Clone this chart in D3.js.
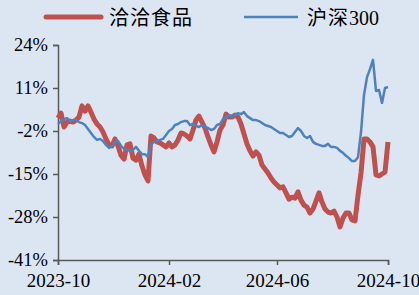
<!DOCTYPE html>
<html>
<head>
<meta charset="utf-8">
<script src="https://cdn.jsdelivr.net/npm/d3@7/dist/d3.min.js"></script>
<style>
  html, body { margin: 0; padding: 0; background: #dce6f2; }
  svg { display: block; }
</style>
</head>
<body>
<svg id="chart"></svg>
<script>
const W = 419, H = 295

// cumulative return, %, sampled points over the period
const qiaqia = [
    1.9, 3.4, -0.8, 0.7, 1.0, 0.7, 1.3, 2.2, 5.6, 4.0,
    5.6, 3.7, 1.6, 0.1, -0.8, -2.3, -4.4, -6.2, -6.5, -4.4,
    -6.5, -9.3, -10.5, -6.2, -5.9, -10.2, -10.8, -9.0, -12.6, -15.3,
    -17.1, -3.5, -4.1, -5.3, -5.6, -6.2, -6.8, -5.6, -6.8, -6.2,
    -4.7, -2.6, -2.9, -3.5, -4.4, -1.7, 1.3, 2.5, 0.7, -1.1,
    -3.8, -6.2, -8.3, -5.3, -1.7, -0.2, 3.1, 2.2, 2.2, 2.8,
    2.2, 0.1, -2.9, -5.9, -8.0, -9.6, -8.3, -9.3, -12.3, -13.5,
    -14.7, -16.2, -17.4, -18.3, -19.2, -18.9, -20.7, -22.6, -22.0, -22.3,
    -20.4, -22.9, -24.4, -25.0, -26.8, -25.6, -23.2, -20.7, -23.5, -25.6,
    -26.5, -26.8, -26.2, -28.0, -31.0, -28.3, -26.8, -26.8, -28.9, -29.2,
    -21.4, -14.7, -4.4, -4.4, -5.3, -6.8, -15.3, -15.6, -15.0, -14.4,
    -5.3
]

const hs300 = [
    0.1, 1.0, 1.6, 1.9, 1.0, 1.3, 1.3, 0.7, 0.4, -0.2,
    -1.4, -2.6, -3.8, -4.7, -4.4, -5.0, -6.2, -7.1, -6.5, -5.3,
    -5.0, -6.5, -7.4, -7.7, -8.0, -7.7, -6.8, -8.0, -9.0, -9.0,
    -9.9, -6.2, -5.3, -5.0, -4.7, -4.4, -3.2, -2.0, -1.4, -0.2,
    0.1, 0.7, 1.0, 1.0, -0.2, 0.1, -0.5, -0.8, -0.2, -0.8,
    -1.1, -1.7, -1.4, -0.2, 0.1, 1.6, 2.2, 2.8, 2.5, 2.8,
    3.4, 3.1, 3.7, 2.5, 1.9, 1.3, 1.3, 1.0, 0.4, -0.2,
    -0.5, -0.8, -1.4, -2.0, -2.6, -2.6, -3.2, -3.8, -3.5, -2.3,
    -1.1, -2.0, -3.5, -4.1, -3.5, -5.3, -5.9, -6.2, -6.5, -6.5,
    -5.9, -6.8, -6.8, -7.1, -8.0, -8.6, -9.5, -10.2, -11.1, -11.1,
    -9.9, -2.3, 8.9, 14.3, 16.7, 19.5, 10.1, 10.4, 6.5, 11.0,
    11.3
]

const yTicks = [24, 11, -2, -15, -28, -41]
const xTickIdx = [0, 37, 73, 110]
const xTickLabels = ['2023-10', '2024-02', '2024-06', '2024-10']

const seriesNames = ['洽洽食品', '沪深']
const red = '#c0504d'
const blue = '#4f81bd'
const axisCol = '#595959'

const svg = d3.select('#chart').attr('width', W).attr('height', H)

const x = d3.scaleLinear().domain([0, qiaqia.length - 1]).range([58, 388])
const y = d3.scaleLinear().domain([-41, 24]).range([260, 45])

// y axis
const yAxis = svg.append('g')
    .attr('transform', 'translate(58,0)')
    .call(d3.axisLeft(y).tickValues(yTicks).tickSize(5).tickPadding(5)
        .tickFormat(d => d + '%'))
yAxis.select('.domain').attr('stroke', axisCol).attr('stroke-width', 1.5)
yAxis.selectAll('.tick line').attr('stroke', axisCol).attr('stroke-width', 1.5)
yAxis.selectAll('.tick text')
    .attr('fill', '#000')
    .style('font-family', '"Liberation Serif", "Times New Roman", serif')
    .style('font-size', '18.5px')

// x axis
const xAxis = svg.append('g')
    .attr('transform', 'translate(0,260)')
    .call(d3.axisBottom(x).tickValues(xTickIdx).tickSize(5).tickPadding(9)
        .tickFormat((d, i) => xTickLabels[i]))
xAxis.select('.domain').attr('stroke', axisCol).attr('stroke-width', 1.5)
xAxis.selectAll('.tick line').attr('stroke', axisCol).attr('stroke-width', 1.5)
xAxis.selectAll('.tick text')
    .attr('fill', '#000')
    .style('font-family', '"Liberation Serif", "Times New Roman", serif')
    .style('font-size', '19px')

const line = d3.line()
    .x((d, i) => x(i))
    .y(d => y(d))

svg.append('path')
    .datum(qiaqia)
    .attr('fill', 'none')
    .attr('stroke', red)
    .attr('stroke-width', 5)
    .attr('stroke-linejoin', 'round')
    .attr('d', line)

svg.append('path')
    .datum(hs300)
    .attr('fill', 'none')
    .attr('stroke', blue)
    .attr('stroke-width', 2.5)
    .attr('stroke-linejoin', 'round')
    .attr('d', line)

// legend
const leg = svg.append('g')
leg.append('line')
    .attr('x1', 46).attr('x2', 101).attr('y1', 17).attr('y2', 17)
    .attr('stroke', red).attr('stroke-width', 5).attr('stroke-linecap', 'round')
leg.append('text')
    .attr('x', 109).attr('y', 25)
    .style('font-family', '"Noto Sans CJK SC", sans-serif')
    .style('font-size', '20px')
    .style('letter-spacing', '1px')
    .text(seriesNames[0])

leg.append('line')
    .attr('x1', 244).attr('x2', 298).attr('y1', 17).attr('y2', 17)
    .attr('stroke', blue).attr('stroke-width', 2.5)
const t2 = leg.append('text')
    .attr('x', 307).attr('y', 25)
    .style('font-size', '20px')
t2.append('tspan')
    .style('font-family', '"Noto Sans CJK SC", sans-serif')
    .style('letter-spacing', '1px')
    .text(seriesNames[1])
t2.append('tspan')
    .style('font-family', '"Liberation Serif", serif')
    .text('300')
</script>
</body>
</html>
